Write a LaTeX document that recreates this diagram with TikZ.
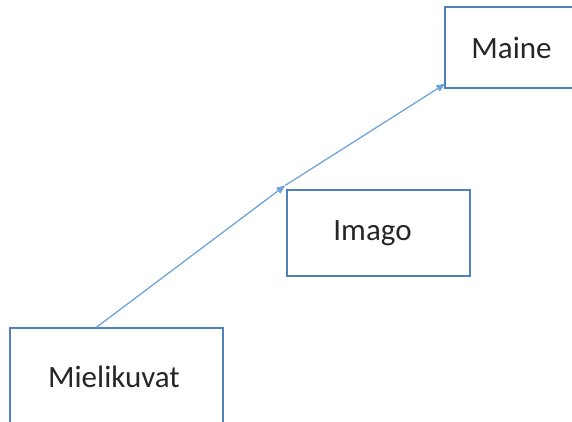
\documentclass[tikz,border=0pt]{standalone}
\usepackage{fontspec}
\setmainfont{Carlito}
\usetikzlibrary{arrows.meta,calc}
\definecolor{boxblue}{RGB}{79,129,189}
\definecolor{arrowblue}{RGB}{110,165,220}
\begin{document}
\begin{tikzpicture}[x=1pt,y=-1pt,
  box/.style={draw=boxblue,line width=1.3pt,rectangle,inner sep=0pt,font=\fontsize{31}{36}\selectfont,text=black!85},
  conn/.style={draw=arrowblue,line width=1.3pt,-{Triangle[length=9pt,width=7pt]}}]
\useasboundingbox (0,0) rectangle (572,421);
\clip (0,0) rectangle (572,421);
\node[box,minimum width=133pt,minimum height=81pt] (maine) at (511.5,47.5) {Maine};
\node[box,minimum width=183pt,minimum height=86pt] (imago) at (378.5,233) {\hspace{-12pt}Imago};
\node[box,minimum width=213pt,minimum height=98pt] (miel) at (116.5,377) {\hspace{-5pt}Mielikuvat};
\coordinate (start) at ($(miel.north west)+(87,0)$);
\coordinate (corner) at ($(imago.north west)+(-1,-4)$);
\coordinate (end) at ($(maine.south west)+(1,-5)$);
\draw[conn] (start) -- (corner);
\draw[conn] (corner) -- (end);
\end{tikzpicture}
\end{document}
